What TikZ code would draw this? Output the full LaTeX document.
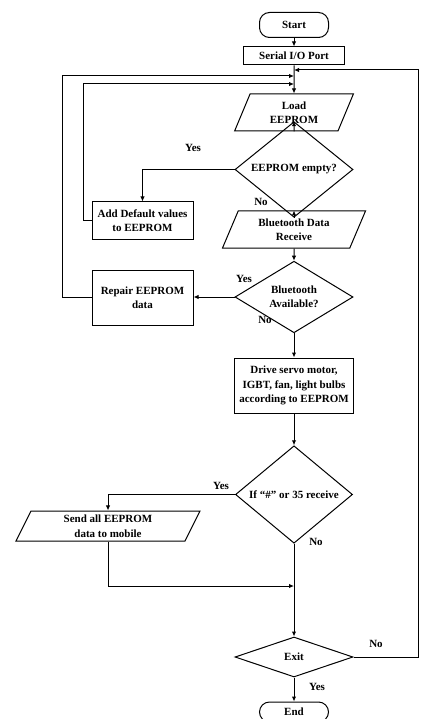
\documentclass[tikz,border=0pt]{standalone}
\usepackage{fontspec}
\setmainfont{Liberation Serif}
\usetikzlibrary{shapes.geometric,arrows.meta}
\tikzset{
  base/.style={draw, line width=1pt, font=\bfseries\fontsize{11}{14.5}\selectfont, align=center, inner sep=1pt},
  term/.style={base, rectangle, rounded corners=10pt, minimum width=69pt, minimum height=25pt},
  proc/.style={base, rectangle, minimum width=101pt},
  io/.style={base, trapezium, trapezium left angle=70, trapezium right angle=110, trapezium stretches=true},
  decide/.style={base, diamond, inner sep=0pt},
  arr/.style={line width=1pt, -{Latex[length=5pt,width=4.5pt]}},
  lbl/.style={font=\bfseries\fontsize{11}{12}\selectfont}
}
\begin{document}
\begin{tikzpicture}[x=1pt,y=-1pt]
  \useasboundingbox (0,0) rectangle (420,719);
  % main column
  \node[term] (start) at (294,25) {Start};
  \node[proc, minimum height=18pt] (serial) at (294,56) {Serial I/O Port};
  \node[io, minimum width=119pt, minimum height=37pt] (load) at (294,112.5) {Load\\EEPROM};
  \node[decide, minimum width=118pt, minimum height=47pt] (empty) at (294,169.5) {EEPROM empty?};
  \node[io, trapezium left angle=67, trapezium right angle=113, minimum width=144pt, minimum height=37pt] (btdata) at (294,229.5) {Bluetooth Data\\Receive};
  \node[decide, minimum width=118pt, minimum height=48pt] (avail) at (294,297) {Bluetooth\\Available?};
  \node[proc, minimum width=119pt, minimum height=55pt] (drive) at (294,385.5) {Drive servo motor,\\IGBT, fan, light bulbs\\according to EEPROM};
  \node[decide, minimum width=117pt, minimum height=73pt] (ifhash) at (294,494.5) {If “\#” or 35 receive};
  \node[decide, minimum width=118pt, minimum height=40pt] (exit) at (294,657) {Exit};
  \node[term, minimum height=20pt] (end) at (294,712) {End};
  % side boxes
  \node[proc, minimum height=37pt] (adddef) at (142.5,220.5) {Add Default values\\to EEPROM};
  \node[proc, minimum height=55pt] (repair) at (142.5,297.5) {Repair EEPROM\\data};
  \node[io, minimum width=184pt, minimum height=30pt] (send) at (108,526) {Send all EEPROM\\data to mobile};
  % yes/no labels
  \node[lbl] (yes1) at (193,148) {Yes};
  \node[lbl] (no1) at (261,202) {No};
  \node[lbl] (yes2) at (244,279) {Yes};
  \node[lbl] (no2) at (265,320) {No};
  \node[lbl] (yes3) at (221,486) {Yes};
  \node[lbl] (no3) at (316,542) {No};
  \node[lbl] (no4) at (376,644) {No};
  \node[lbl] (yes4) at (317,687) {Yes};
  % joints
  \coordinate (j1) at (294,70);
  \coordinate (j2) at (294,76);
  \coordinate (j3) at (294,84);
  \coordinate (j4) at (294,586);
  \coordinate (rt) at (418,70);
  \coordinate (lt) at (62,76);
  \coordinate (lt2) at (83,84);
  % connectors
  \draw[arr] (start) -- (serial);
  \draw[arr] (serial) -- (load);
  \draw[arr] (exit.east) -| (rt) -- (j1);
  \draw[arr] (repair.west) -| (lt) -- (j2);
  \draw[arr] (adddef.west) -| (lt2) -- (j3);
  \draw[arr] (load) -- (empty);
  \draw[arr] (empty.west) -| (adddef.north);
  \draw[arr] (empty) -- (btdata);
  \draw[arr] (btdata) -- (avail);
  \draw[arr] (avail.west) -- (repair.east |- avail.west);
  \draw[arr] (avail) -- (drive);
  \draw[arr] (drive) -- (ifhash);
  \draw[arr] (ifhash.west) -| (send.north);
  \draw[arr] (send.south) |- (j4);
  \draw[arr] (ifhash) -- (exit);
  \draw[arr] (exit) -- (end);
\end{tikzpicture}
\end{document}
